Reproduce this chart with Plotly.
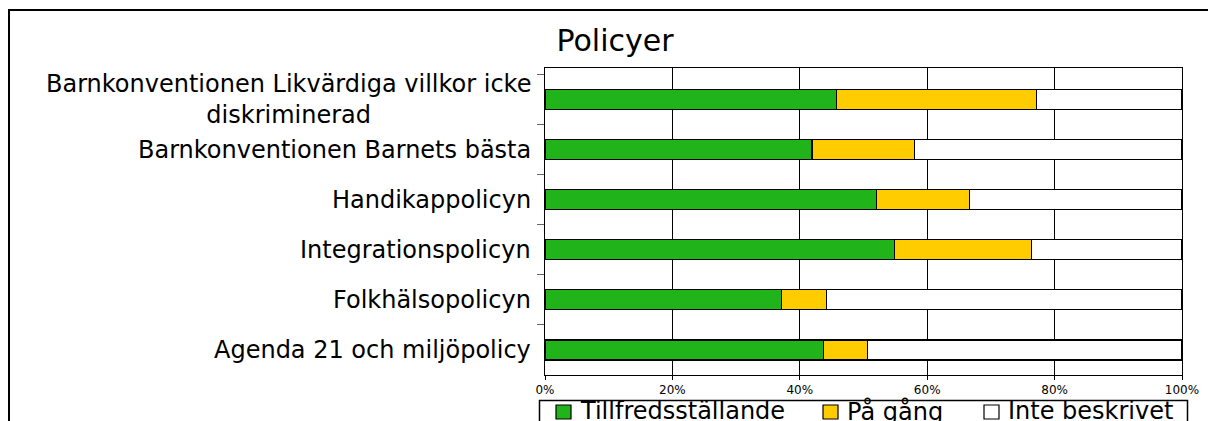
import plotly.graph_objects as go

categories = [
    "Barnkonventionen Likvärdiga villkor icke<br>diskriminerad",
    "Barnkonventionen Barnets bästa",
    "Handikappolicyn",
    "Integrationspolicyn",
    "Folkhälsopolicyn",
    "Agenda 21 och miljöpolicy",
]
tillfredsstallande = [45.8, 41.9, 52.1, 54.9, 37.1, 43.7]
pa_gang = [31.3, 16.1, 14.6, 21.5, 7.1, 6.9]
inte_beskrivet = [22.9, 42.0, 33.3, 23.6, 55.8, 49.4]
x_ticks = [0, 20, 40, 60, 80, 100]
x_tick_labels = ["0%", "20%", "40%", "60%", "80%", "100%"]
series_names = ["Tillfredsställande", "På gång", "Inte beskrivet"]
series_colors = ["#20B41A", "#FFCC00", "#FFFFFF"]

FONT = "DejaVu Sans"
W, H = 1208, 421
L, R, T, B = 545, 1182, 68, 375


def px_to_paper_x(px):
    return (px - L) / (R - L)


def px_to_paper_y(py):
    return (B - py) / (B - T)


fig = go.Figure()
for name, vals, col in zip(series_names,
                           [tillfredsstallande, pa_gang, inte_beskrivet],
                           series_colors):
    fig.add_trace(go.Bar(
        y=categories, x=vals, name=name, orientation="h",
        marker=dict(color=col, line=dict(color="#000000", width=1.2)),
        width=0.4, showlegend=False,
    ))

# category labels as centred annotations
for c in categories:
    fig.add_annotation(
        xref="paper", yref="y", x=0, y=c, text=c, showarrow=False,
        xanchor="right", yanchor="middle", xshift=-12, align="center",
        font=dict(family=FONT, size=24, color="#000000"),
    )

# outer chart frame (left and top edges visible)
fig.add_shape(type="line", xref="paper", yref="paper",
              x0=px_to_paper_x(9), x1=px_to_paper_x(9),
              y0=px_to_paper_y(10), y1=px_to_paper_y(430),
              line=dict(color="#000000", width=2))
fig.add_shape(type="line", xref="paper", yref="paper",
              x0=px_to_paper_x(8), x1=px_to_paper_x(1230),
              y0=px_to_paper_y(10), y1=px_to_paper_y(10),
              line=dict(color="#000000", width=2))

# legend box (bottom of the chart, partly outside the picture)
fig.add_shape(type="rect", xref="paper", yref="paper",
              x0=px_to_paper_x(539.5), x1=px_to_paper_x(1187.5),
              y0=px_to_paper_y(400.5), y1=px_to_paper_y(440),
              line=dict(color="#000000", width=1.5), fillcolor="#FFFFFF")
legend_sym_x = [556, 823, 984]
legend_txt_x = [578, 845, 1006]
for name, col, sx, tx in zip(series_names, series_colors,
                             legend_sym_x, legend_txt_x):
    fig.add_shape(type="rect", xref="paper", yref="paper",
                  x0=px_to_paper_x(sx), x1=px_to_paper_x(sx + 15),
                  y0=px_to_paper_y(405), y1=px_to_paper_y(419),
                  line=dict(color="#000000", width=1.2), fillcolor=col)
    fig.add_annotation(
        xref="paper", yref="paper", x=px_to_paper_x(tx), y=px_to_paper_y(411),
        text=name, showarrow=False, xanchor="left", yanchor="middle",
        font=dict(family=FONT, size=24, color="#000000"),
    )

fig.update_layout(
    width=W, height=H,
    margin=dict(l=L, r=W - R, t=T, b=H - B, pad=0, autoexpand=False),
    paper_bgcolor="#FFFFFF", plot_bgcolor="#FFFFFF",
    barmode="stack", bargap=0.6,
    title=dict(text="Policyer", x=615 / W, xanchor="center", xref="container",
               y=1 - 40 / H, yanchor="middle", yref="container",
               font=dict(family=FONT, size=30, color="#000000")),
    font=dict(family=FONT, color="#000000"),
    showlegend=False,
    xaxis=dict(range=[0, 100], tickvals=x_ticks, ticktext=x_tick_labels,
               showgrid=True, gridcolor="#000000", gridwidth=1,
               showline=True, linecolor="#000000", linewidth=1, mirror=True,
               ticks="outside", ticklen=4, tickcolor="#000000",
               tickfont=dict(family=FONT, size=12, color="#000000"),
               zeroline=False, fixedrange=True),
    yaxis=dict(autorange="reversed", showticklabels=False,
               tickson="boundaries", ticks="outside", ticklen=7,
               tickcolor="#666666", showline=True, linecolor="#000000",
               linewidth=1, mirror=True, showgrid=False, fixedrange=True),
)

fig.write_html(
    "out.html",
    config={"displayModeBar": False},
    post_script="document.body.style.margin='0';document.body.style.overflow='hidden';",
)
